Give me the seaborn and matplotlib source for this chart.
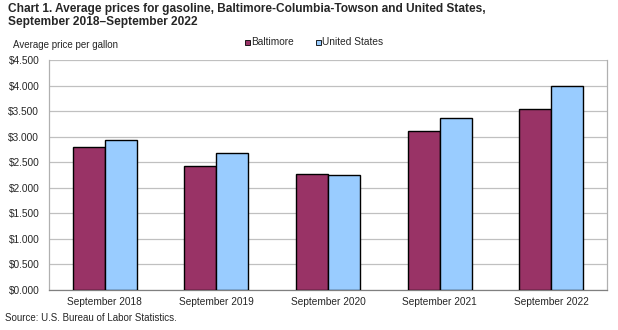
import matplotlib
matplotlib.use("Agg")
import matplotlib.pyplot as plt
import seaborn as sns
import pandas as pd
from matplotlib.patches import Rectangle

# Data: average price per gallon of gasoline, September of each year
periods = ["September 2018", "September 2019", "September 2020",
           "September 2021", "September 2022"]
baltimore = [2.789, 2.419, 2.262, 3.109, 3.541]
united_states = [2.927, 2.690, 2.247, 3.357, 3.996]
series_names = ["Baltimore", "United States"]
series_colors = ["#993366", "#99CCFF"]
y_ticks = [0.0, 0.5, 1.0, 1.5, 2.0, 2.5, 3.0, 3.5, 4.0, 4.5]

df = pd.DataFrame({
    "period": periods * 2,
    "series": [series_names[0]] * len(periods) + [series_names[1]] * len(periods),
    "price": baltimore + united_states,
})

sns.set_theme(style="white")
plt.rcParams["font.family"] = ["Liberation Sans", "DejaVu Sans"]

fig = plt.figure(figsize=(6.18, 3.30), dpi=100)
ax = fig.add_axes([49 / 618, 1 - 290 / 330, 558 / 618, 230 / 330])

sns.barplot(data=df, x="period", y="price", hue="series",
            palette=series_colors, width=0.575, edgecolor="black",
            linewidth=1.0, saturation=1, legend=False, ax=ax, zorder=3)

ax.set_ylim(0, 4.5)
ax.set_yticks(y_ticks)
ax.set_yticklabels([f"${v:.3f}" for v in y_ticks], fontsize=7.3)
ax.tick_params(axis="x", labelsize=7.3, length=0, pad=5)
ax.tick_params(axis="y", length=0, pad=7)
ax.set_xlabel("")
ax.set_ylabel("")
ax.yaxis.grid(True, color="#c0c0c0", linewidth=0.9, zorder=0)
ax.set_axisbelow(True)
for side in ["left", "right", "bottom"]:
    ax.spines[side].set_visible(True)
    ax.spines[side].set_color("#b0b0b0")
    ax.spines[side].set_linewidth(0.9)
ax.spines["bottom"].set_color("#808080")
ax.spines["top"].set_visible(False)

# Title and annotations
fig.text(8 / 618, 1 - 3 / 330,
         "Chart 1. Average prices for gasoline, Baltimore-Columbia-Towson and United States,\nSeptember 2018\u2013September 2022",
         fontsize=8.6, fontweight="bold", va="top", ha="left", linespacing=1.15)
fig.text(13 / 618, 1 - 45 / 330, "Average price per gallon",
         fontsize=7.0, va="center", ha="left")
fig.text(5 / 618, 1 - 318 / 330, "Source: U.S. Bureau of Labor Statistics.",
         fontsize=7.0, va="center", ha="left")

# Legend with small square markers
legend_x = [245, 316]
for x0, name, color in zip(legend_x, series_names, series_colors):
    fig.patches.append(Rectangle((x0 / 618, 1 - 45 / 330), 5 / 618, 5 / 330,
                                 transform=fig.transFigure, facecolor=color,
                                 edgecolor="black", linewidth=0.6))
    fig.text((x0 + 6) / 618, 1 - 42.3 / 330, name, fontsize=7.3,
             va="center", ha="left")

fig.savefig("out.png", dpi=100)
